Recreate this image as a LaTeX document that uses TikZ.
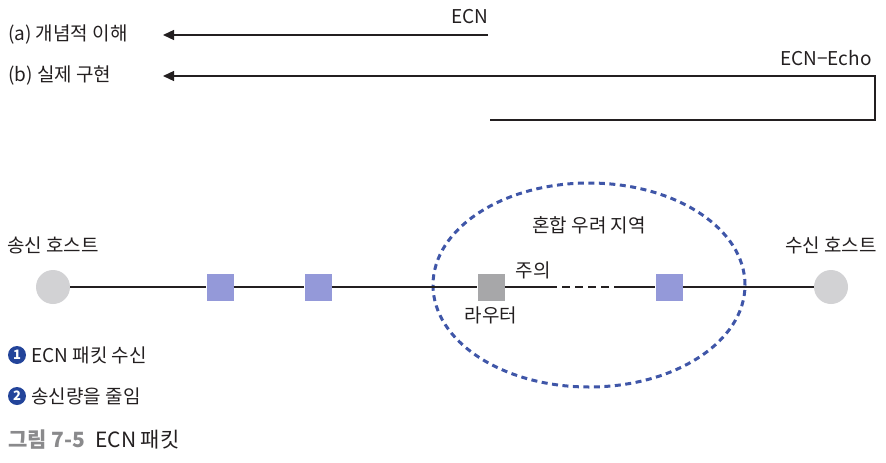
\documentclass[tikz,border=0pt]{standalone}
\usepackage{fontspec}
\setmainfont{Noto Sans CJK KR}
\usepackage{tikz}
\usetikzlibrary{arrows.meta,positioning,shapes.geometric}
\definecolor{pktblue}{HTML}{9499D9}
\definecolor{routergray}{HTML}{A7A7A9}
\definecolor{hostgray}{HTML}{D2D2D4}
\definecolor{zoneblue}{HTML}{3F56A8}
\definecolor{numblue}{HTML}{23449A}
\definecolor{capgray}{HTML}{8A8A8C}
\definecolor{ink}{HTML}{231F20}
\tikzset{
    every picture/.style={line join=miter},
    txt/.style={font=\fontsize{19}{22}\selectfont,text=ink,inner sep=0pt},
    host/.style={circle,fill=hostgray,minimum size=34pt,inner sep=0pt},
    pktbox/.style={rectangle,fill=pktblue,minimum size=27pt,inner sep=0pt},
    routerbox/.style={rectangle,fill=routergray,minimum size=27pt,inner sep=0pt},
    wire/.style={draw=ink,line width=1.2pt},
    sigarrow/.style={draw=ink,line width=1.3pt,-{Triangle[length=11pt,width=10pt]}},
    zone/.style={ellipse,draw=zoneblue,line width=3pt,dash pattern=on 6pt off 4.5pt,
      minimum width=312pt,minimum height=204pt,inner sep=0pt},
    numdot/.style={circle,fill=numblue,text=white,minimum size=18pt,inner sep=0pt,
      font=\fontsize{13}{13}\selectfont\bfseries}
}
\begin{document}
\begin{tikzpicture}[x=1pt,y=-1pt]
  \useasboundingbox (0,0) rectangle (886,463);
  % signal paths
  \node[txt,anchor=west] (lblA) at (8,35) {(a) 개념적 이해};
  \node[txt,anchor=west] (lblB) at (8,76) {(b) 실제 구현};
  \coordinate (tipA) at (163,35);
  \coordinate (tipB) at (163,76);
  \coordinate (ecnA) at (488,35);
  \coordinate (echoA) at (490,120);
  \coordinate (echoB) at (875,120);
  \coordinate (echoC) at (875,76);
  \node[txt] (ecn) at (470,17) {ECN};
  \node[txt] (echo) at (826,58) {ECN−Echo};
  \draw[sigarrow] (ecnA)--(tipA);
  \draw[sigarrow] (echoA)--(echoB)--(echoC)--(tipB);
  % network
  \node[zone] (zone) at (589,285) {};
  \node[host] (src) at (53,287) {};
  \node[host] (dst) at (831,287) {};
  \foreach \x/\name in {220/p1,318/p2,669/p3} {
    \node[pktbox] (\name) at (\x,287) {};
  }
  \node[routerbox] (rt) at (491,287) {};
  \coordinate (gapL) at (557,287);
  \coordinate (gapR) at (621,287);
  \draw[wire] (src)--(p1)--(p2)--(rt)--(gapL);
  \draw[wire,dash pattern=on 8pt off 5pt] ([xshift=5pt]gapL)--(gapR);
  \draw[wire] (gapR)--(p3)--(dst);
  \node[txt] (srcl) at (53,245) {송신 호스트};
  \node[txt] (dstl) at (831,245) {수신 호스트};
  \node[txt] (zonel) at (589,225) {혼합 우려 지역};
  \node[txt] (warn) at (533,270) {주의};
  \node[txt] (rtl) at (491,315) {라우터};
  % steps
  \node[numdot] (n1) at (17,355) {1};
  \node[txt,anchor=west,right=5pt of n1] (s1) {ECN 패킷 수신};
  \node[numdot] (n2) at (17,396) {2};
  \node[txt,anchor=west,right=5pt of n2] (s2) {송신량을 줄임};
  \node[txt,anchor=west,font=\fontsize{21}{24}\selectfont] (cap) at (8,440)
    {\textcolor{capgray}{\bfseries 그림 7-5}\hspace{10pt}ECN 패킷};
\end{tikzpicture}
\end{document}
